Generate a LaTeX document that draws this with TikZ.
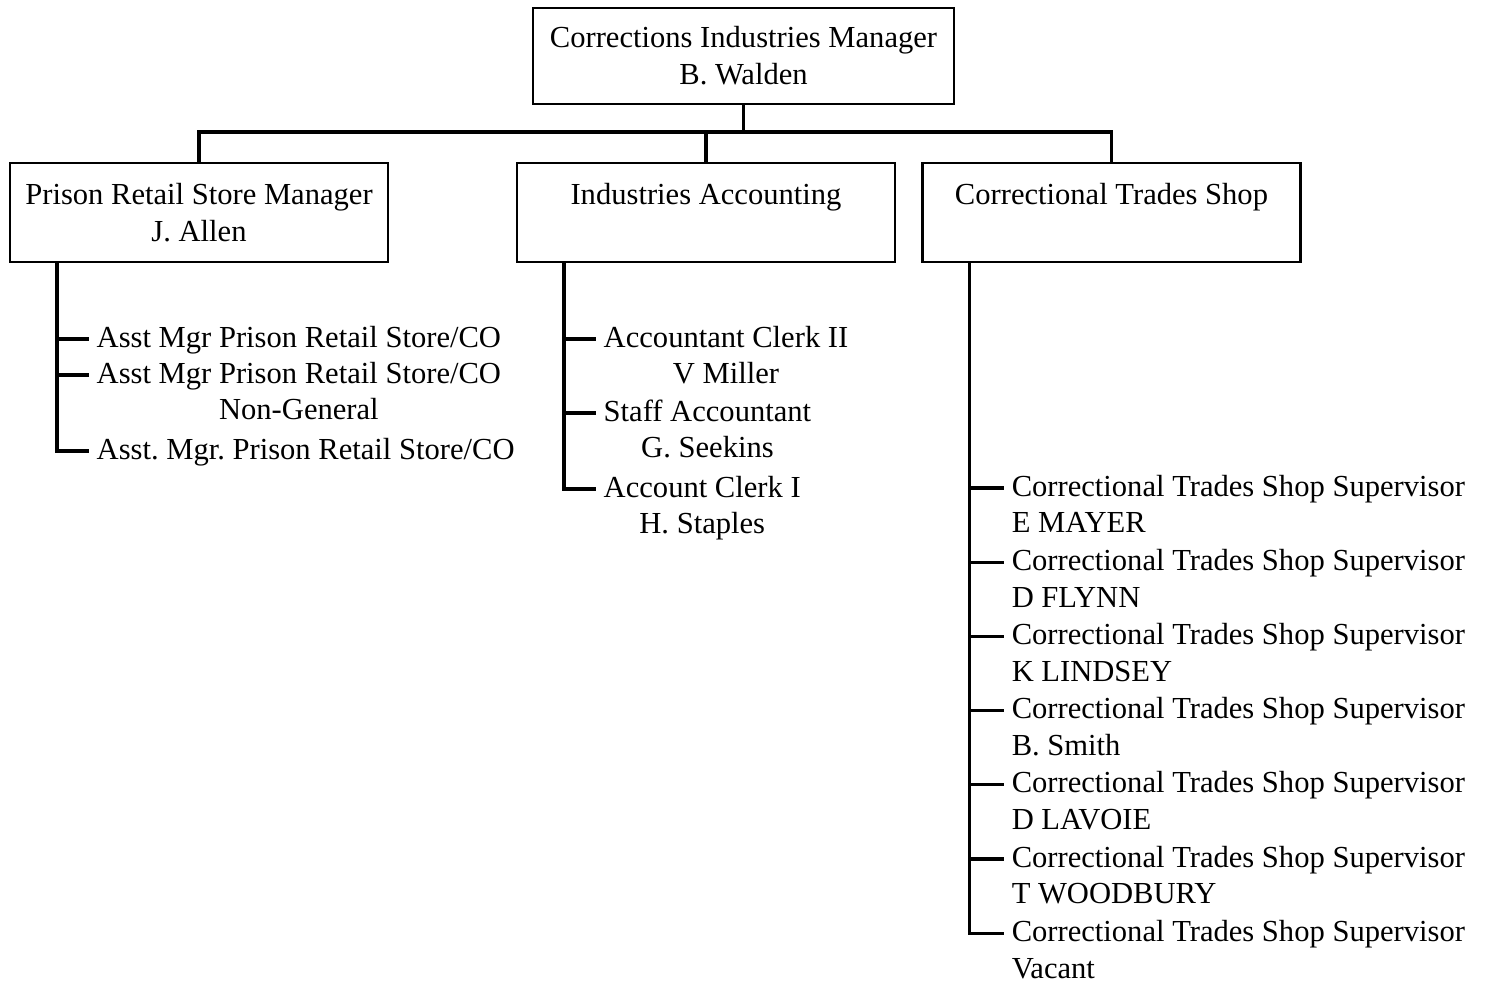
\documentclass[tikz,border=0pt]{standalone}
\usepackage{fontspec}
\setmainfont{Liberation Serif}
\usetikzlibrary{calc}
\frenchspacing

% two stacked lines, hung from the first one
\newcommand{\twoline}[3][c]{\begin{tabular}[t]{@{}#1@{}}#2\\#3\end{tabular}}

\begin{document}
\begin{tikzpicture}[x=0.1mm, y=-0.1mm,
    every node/.style={font=\fontsize{8.7}{10.5}\selectfont},
    unit/.style={draw, line width=0.6pt, align=center, minimum width=37.8mm, minimum height=9.9mm, inner sep=0pt},
    post/.style={anchor=mid west, inner xsep=2pt, inner ysep=0pt},
    link/.style={line width=0.9pt}]
\useasboundingbox (0,0) rectangle (1486,984);

% Manager and the three units below
\node[unit, minimum width=42.1mm, minimum height=9.6mm] (mgr) at (743.5,56) {Corrections Industries Manager\\B. Walden};
\node[unit] (store) at (199,212.5) {Prison Retail Store Manager\\J. Allen};
\node[unit] (acct) at (706,212.5) {Industries Accounting\\\mbox{}};
\node[unit] (shop) at (1111.5,212.5) {Correctional Trades Shop\\\mbox{}};

% Bus from the manager
\draw[link] (mgr.south) -- ++(0,27) coordinate (bus);
\draw[link] (store.north) |- (bus) -| (shop.north);
\draw[link] (bus -| acct.north) -- (acct.north);

% Retail store staff
\coordinate (st) at ($(store.south west)+(48,0)$);
\node[post] (s1) at (89,339) {Asst Mgr Prison Retail Store/CO};
\node[post] (s2) at (89,375) {\twoline{Asst Mgr Prison Retail Store/CO}{Non-General}};
\node[post] (s3) at (89,451) {Asst. Mgr. Prison Retail Store/CO};
\draw[link] (st) |- (s3.mid west);
\foreach \k in {1,2} \draw[link] (st |- s\k.mid west) -- (s\k.mid west);

% Accounting staff
\coordinate (at) at ($(acct.south west)+(48,0)$);
\node[post] (a1) at (596,339) {\twoline{Accountant Clerk II}{V Miller}};
\node[post] (a2) at (596,413) {\twoline{Staff Accountant}{G. Seekins}};
\node[post] (a3) at (596,489) {\twoline{Account Clerk I}{H. Staples}};
\draw[link] (at) |- (a3.mid west);
\foreach \k in {1,2} \draw[link] (at |- a\k.mid west) -- (a\k.mid west);

% Trades shop supervisors
\coordinate (ct) at ($(shop.south west)+(48,0)$);
\foreach \nm [count=\i] in {E MAYER, D FLYNN, K LINDSEY, B. Smith, D LAVOIE, T WOODBURY, Vacant}
  \node[post] (c\i) at (1004,{488+74.2*(\i-1)}) {\twoline[l]{Correctional Trades Shop Supervisor}{\nm}};
\draw[link] (ct) |- (c7.mid west);
\foreach \i in {1,...,6} \draw[link] (ct |- c\i.mid west) -- (c\i.mid west);
\end{tikzpicture}
\end{document}
